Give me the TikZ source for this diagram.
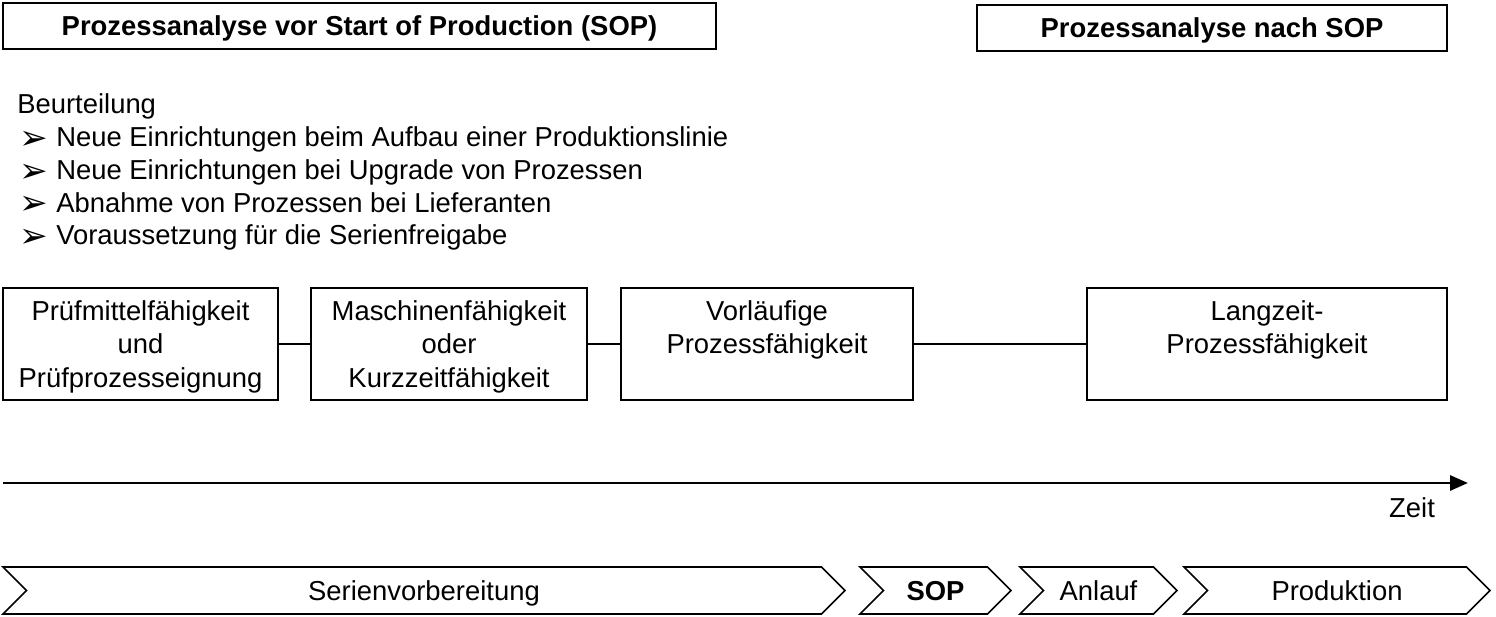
\documentclass[tikz,border=0pt]{standalone}
\usepackage{fontspec}
\usepackage{graphicx}
\setmainfont{Liberation Sans}
\newfontfamily\pfeilfont{DejaVu Sans}
\usetikzlibrary{positioning, shapes.symbols, arrows.meta}

\newcommand{\groesse}{\fontsize{15.6}{19.1}\selectfont}
\newcommand{\pfeil}{\raisebox{-1.5pt}{\smash{\pfeilfont\scalebox{1.25}{\char"27A2}}}}

\tikzset{
  kasten/.style={rectangle, draw, line width=0.9pt, minimum height=2.24cm, align=center, inner sep=0pt, text depth=-0.22cm, font=\groesse},
  titel/.style={rectangle, draw, line width=0.9pt, minimum height=0.92cm, text height=11.2pt, text depth=0pt, font=\groesse\bfseries},
  phase/.style={signal, signal from=west, signal to=east, draw, line width=0.9pt, minimum height=0.94cm, inner sep=0pt, text height=11.2pt, text depth=-0.16cm, font=\groesse},
  zeile/.style={anchor=base west, inner sep=0pt, font=\groesse}
}

\begin{document}
\begin{tikzpicture}[x=0.02cm, y=-0.02cm]
  \useasboundingbox (0,0) rectangle (1496,617);

  % Kopfzeilen
  \node[titel, minimum width=14.26cm] (vorsop) at (359.5,26) {Prozessanalyse vor Start of Production (SOP)};
  \node[titel, minimum width=9.4cm] (nachsop) at (1212,28) {Prozessanalyse nach SOP};

  % Beurteilung
  \node[zeile] (beurteilung) at (17,114) {Beurteilung};
  \foreach \txt [count=\i] in {Neue Einrichtungen beim Aufbau einer Produktionslinie,
      Neue Einrichtungen bei Upgrade von Prozessen,
      Abnahme von Prozessen bei Lieferanten,
      Voraussetzung für die Serienfreigabe}
    \node[zeile] (punkt\i) at (19,{114+32.7*\i}) {\makebox[0.74cm][l]{\pfeil}\txt};

  % Faehigkeiten
  \node[kasten, minimum width=5.5cm] (pmf) at (140.5,344) {Prüfmittelfähigkeit\\und\\Prüfprozesseignung};
  \node[kasten, minimum width=5.52cm, right=0.63cm of pmf] (mf) {Maschinenfähigkeit\\oder\\Kurzzeitfähigkeit};
  \node[kasten, minimum width=5.84cm, right=0.65cm of mf] (vpf) {Vorläufige\\Prozessfähigkeit\\\mbox{}};
  \node[kasten, minimum width=7.2cm, right=3.45cm of vpf] (lpf) {Langzeit-\\Prozessfähigkeit\\\mbox{}};

  \draw[line width=0.9pt] (pmf) -- (mf);
  \draw[line width=0.9pt] (mf) -- (vpf);
  \draw[line width=0.9pt] (vpf) -- (lpf);

  % Zeitachse
  \coordinate (zeitanfang) at (3,483);
  \coordinate (zeitende) at (1468,483);
  \draw[line width=1.7pt, -{Triangle[length=0.36cm, width=0.3cm]}] (zeitanfang) -- (zeitende);
  \node[anchor=base, inner sep=0pt, font=\groesse] (zeit) at (1412,518) {Zeit};

  % Phasen
  \node[phase, minimum width=16.84cm] (serie) at (424,590.5) {Serienvorbereitung};
  \node[phase, minimum width=3.02cm, font=\groesse\bfseries] (sop) at (935.5,590.5) {SOP};
  \node[phase, minimum width=3.14cm] (anlauf) at (1098.5,590.5) {Anlauf};
  \node[phase, minimum width=6.12cm] (produktion) at (1337,590.5) {Produktion};
\end{tikzpicture}
\end{document}
